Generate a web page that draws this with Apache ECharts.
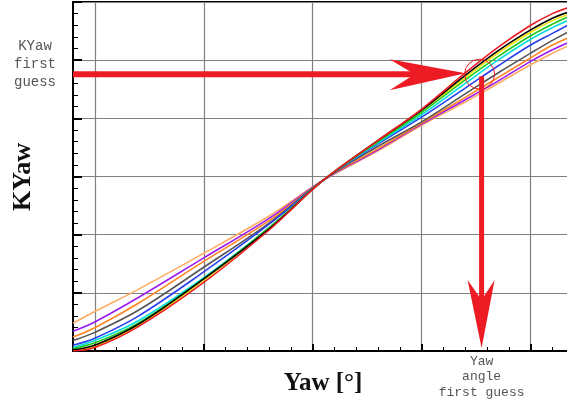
<!DOCTYPE html>
<html><head><meta charset="utf-8">
<script src="https://cdn.jsdelivr.net/npm/echarts@6/dist/echarts.min.js"></script>
<style>html,body{margin:0;padding:0;background:#fff}#c{width:567px;height:405px}</style>
</head><body><div id="c"></div>
<script>
// Yaw positions (axis units) where curves were read
const yawValues = [-1, 0, 2, 5, 8, 10.5, 13, 15, 17, 18.5, 20, 21, 21.7];
// KYaw readings per curve
const kRed    = [0.0, 0.3, 2.1, 5.9, 10.4, 14.7, 18.1, 20.8, 23.9, 26.1, 28.0, 29.0, 29.5];
const kYellow = [0.05, 0.4, 2.2, 6.1, 10.5, 14.7, 18.1, 20.7, 23.5, 25.6, 27.4, 28.4, 28.9];
const kBlack  = [0.1, 0.5, 2.3, 6.2, 10.5, 14.7, 18.1, 20.7, 23.7, 25.8, 27.6, 28.6, 29.1];
const kGreen  = [0.2, 0.7, 2.4, 6.2, 10.6, 14.7, 18.0, 20.5, 23.3, 25.3, 27.1, 28.1, 28.7];
const kCyan   = [0.3, 0.9, 2.6, 6.3, 10.6, 14.7, 17.9, 20.3, 23.0, 25.0, 26.8, 27.8, 28.4];
const kBlue   = [0.5, 1.1, 3.0, 6.8, 10.9, 14.7, 17.8, 20.1, 22.6, 24.5, 26.3, 27.3, 28.0];
const kGray   = [0.9, 1.6, 3.5, 7.2, 11.0, 14.7, 17.6, 19.7, 22.1, 23.9, 25.6, 26.7, 27.4];
const kOrange = [1.2, 2.0, 4.1, 7.7, 11.2, 14.7, 17.4, 19.6, 21.8, 23.5, 25.2, 26.3, 26.9];
const kPurple = [1.7, 2.5, 4.6, 8.0, 11.4, 14.7, 17.3, 19.5, 21.6, 23.2, 24.9, 25.9, 26.5];
const kPeach  = [2.4, 3.4, 5.3, 8.4, 11.6, 14.7, 17.2, 19.4, 21.4, 23.0, 24.6, 25.6, 26.2];
// tick positions along the yaw axis (no labels shown in the figure)
const xTickValues = Array.from({length: 25}, (_, i) => String(i - 1));
// first-guess annotation values
const yawGuess = 17.75;
const kyawGuess = 23.8;
// texts
const yTitle = 'KYaw';
const xTitle = 'Yaw [°]';
const kNote = 'KYaw\nfirst\nguess';
const yawNote = 'Yaw\nangle\nfirst guess';

const curves = [
  {name: 'peach',  data: kPeach,  color: '#ffad63'},
  {name: 'purple', data: kPurple, color: '#9a1cf0'},
  {name: 'orange', data: kOrange, color: '#ff8420'},
  {name: 'gray',   data: kGray,   color: '#555555'},
  {name: 'blue',   data: kBlue,   color: '#2a40f0'},
  {name: 'cyan',   data: kCyan,   color: '#00dcdc'},
  {name: 'green',  data: kGreen,  color: '#1fc81a'},
  {name: 'yellow', data: kYellow, color: '#f0e400'},
  {name: 'black',  data: kBlack,  color: '#000000'},
  {name: 'red',    data: kRed,    color: '#ee1c24'}
];

const chart = echarts.init(document.getElementById('c'), null, {renderer: 'canvas'});
const option = {
  animation: false,
  backgroundColor: '#fff',
  grid: {left: 73, top: 2, bottom: 54, right: -29, show: true, borderColor: '#000', borderWidth: 2, containLabel: false, outerBoundsMode: 'none'},
  xAxis: [
    {type: 'value', min: -1, max: 23, show: false, axisLine: {onZero: false}},
    {type: 'category', data: xTickValues, boundaryGap: false, position: 'bottom',
     axisLine: {show: true, onZero: false, lineStyle: {color: '#000', width: 2}},
     axisTick: {show: true, inside: true, length: 4, interval: 0, lineStyle: {color: '#000', width: 1}},
     axisLabel: {show: false},
     splitLine: {show: true, interval: (i) => (i - 1) % 5 === 0, lineStyle: {color: '#808080', width: 1.2}}},
    {type: 'category', data: xTickValues, boundaryGap: false, position: 'bottom',
     axisLine: {show: false, onZero: false},
     axisTick: {show: true, inside: true, length: 7, interval: (i) => (i - 1) % 5 === 0, lineStyle: {color: '#000', width: 2}},
     axisLabel: {show: false}, splitLine: {show: false}}
  ],
  yAxis: {type: 'value', min: 0, max: 30, interval: 5, position: 'left',
    axisLine: {show: true, onZero: false, lineStyle: {color: '#000', width: 2}},
    axisTick: {show: true, inside: true, length: 9, lineStyle: {color: '#000', width: 2}},
    minorTick: {show: true, splitNumber: 5, length: 5, lineStyle: {color: '#000', width: 1}},
    axisLabel: {show: false},
    splitLine: {show: true, lineStyle: {color: '#808080', width: 1.2}}},
  series: curves.map(c => ({
    name: c.name, type: 'line', xAxisIndex: 0, yAxisIndex: 0,
    data: yawValues.map((x, i) => [x, c.data[i]]),
    showSymbol: false, smooth: 0.35,
    lineStyle: {color: c.color, width: 1.6}, itemStyle: {color: c.color}
  }))
};
chart.setOption(option);

const red = '#ed1c24';
const p = chart.convertToPixel({seriesIndex: 0}, [yawGuess, kyawGuess]);
const px = p[0], py = p[1];
const x0 = chart.convertToPixel({seriesIndex: 0}, [-1, kyawGuess])[0];
const by = chart.convertToPixel({seriesIndex: 0}, [yawGuess, 0])[1];

chart.setOption({graphic: [
  {type: 'rect', z: 100, shape: {x: x0, y: py - 3, width: (px - 66) - x0, height: 6}, style: {fill: red}},
  {type: 'polygon', z: 100, shape: {points: [[px - 92, py - 15], [px - 16, py - 1], [px - 92, py + 16], [px - 67, py]]}, style: {fill: red}},
  {type: 'rect', z: 100, shape: {x: px - 2.5, y: py + 2, width: 5, height: (by - 48) - (py + 2)}, style: {fill: red}},
  {type: 'polygon', z: 100, shape: {points: [[px - 14, by - 71], [px, by - 3], [px + 13, by - 71], [px, by - 51]]}, style: {fill: red}},
  {type: 'circle', z: 100, shape: {cx: px - 2, cy: py, r: 15}, style: {fill: null, stroke: red, lineWidth: 1}},
  {type: 'text', z: 100, style: {x: 35, y: 64, text: kNote, font: '14px "Liberation Mono"', fill: '#555', align: 'center', verticalAlign: 'middle', lineHeight: 18}},
  {type: 'text', z: 100, style: {x: px, y: 377, text: yawNote, font: '13px "Liberation Mono"', fill: '#555', align: 'center', verticalAlign: 'middle', lineHeight: 15.5}},
  {type: 'text', z: 100, x: 23, y: 177, rotation: Math.PI / 2, style: {x: 0, y: 0, text: yTitle, font: 'bold 26px "Liberation Serif"', fill: '#111', align: 'center', verticalAlign: 'middle'}},
  {type: 'text', z: 100, style: {x: 323, y: 384, text: xTitle, font: 'bold 25px "Liberation Serif"', fill: '#111', align: 'center', verticalAlign: 'middle'}}
]});
</script>
</body></html>
